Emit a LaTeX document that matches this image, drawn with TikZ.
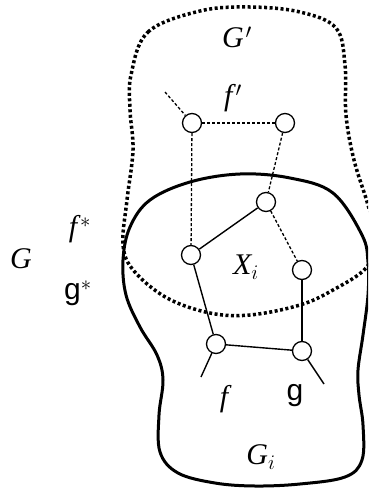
\documentclass[tikz,border=0pt]{standalone}
\usepackage{fontspec}
\setmainfont{Liberation Serif}
\newfontfamily\gsans{Liberation Sans}
\begin{document}
\begin{tikzpicture}[x = 1pt, y = -1pt,
		vtx/.style = {draw, circle, fill = white, line width = 1.3pt, minimum size = 19pt, inner sep = 0pt},
		real/.style = {line width = 1.4pt},
		virt/.style = {line width = 1.3pt, dash pattern = on 3pt off 2pt},
		lbl/.style = {font = \fontsize{30}{32}\selectfont\itshape, inner sep = 0pt}]
		\clip (0,0) rectangle (368,488);
		% the graph G' (dotted) and G_i (solid)
		\draw[line width = 3.5pt, dash pattern = on 3pt off 2.5pt] plot[smooth cycle, tension = 0.6] coordinates {
			(131,75) (148,32) (200,11) (250,7) (300,12) (336,28) (345,65) (346,115)
			(354,160) (368,205) (376,240) (366,268) (333,290) (300,305) (250,315)
			(210,313) (167,298) (134,271) (123,245) (127,200) (133,150) (130,110)};
		\draw[line width = 3pt] plot[smooth cycle, tension = 0.6] coordinates {
			(240,174) (190,182) (150,200) (130,227) (123,260) (126,295) (140,327)
			(157,355) (163,380) (159,415) (160,452) (178,473) (215,483) (255,486)
			(300,484) (345,477) (362,460) (363,425) (359,395) (358,370) (363,335)
			(368,295) (368,262) (362,235) (333,193) (290,178)};
		% vertices
		\node[vtx] (a) at (192,123) {};
		\node[vtx] (b) at (285,123) {};
		\node[vtx] (c) at (266,202) {};
		\node[vtx] (d) at (191,255) {};
		\node[vtx] (e) at (302,270) {};
		\node[vtx] (f) at (216,344) {};
		\node[vtx] (g) at (302,351) {};
		\coordinate (a0) at (165,92);
		\coordinate (f0) at (201,377);
		\coordinate (g0) at (324,384);
		% edges
		\draw[virt] (a0) -- (a);
		\draw[virt] (a) -- (b);
		\draw[virt] (a) -- (d);
		\draw[virt] (b) -- (c);
		\draw[virt] (c) -- (e);
		\draw[real] (d) -- (c);
		\draw[real] (d) -- (f);
		\draw[real] (f) -- (g);
		\draw[real] (e) -- (g);
		\draw[real] (f) -- (f0);
		\draw[real] (g) -- (g0);
		% labels
		\node[lbl] (Gp) at (237,37) {G\kern2pt$'$};
		\node[lbl] (fp) at (233,98) {f\kern3pt$'$};
		\node[lbl] (fs) at (80,229) {f\kern3pt$^{*}$};
		\node[lbl] (G) at (21,259) {G};
		\node[lbl, font = \fontsize{30}{32}\selectfont\gsans] (gs) at (78,293) {g$^{*}$};
		\node[lbl] (X) at (246,267) {X$_{i}$};
		\node[lbl] (fl) at (224,399) {f};
		\node[lbl, font = \fontsize{30}{32}\selectfont\gsans] (gl) at (295,396) {g};
		\node[lbl] (Gi) at (261,457) {G$_{i}$};
	\end{tikzpicture}
\end{document}
